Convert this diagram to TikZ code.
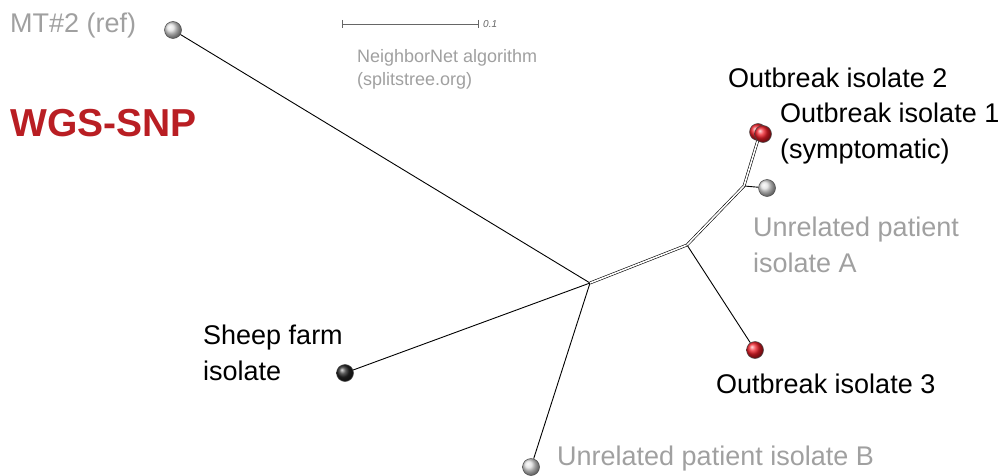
\documentclass[tikz,border=0pt]{standalone}
\usepackage{fontspec}
\setmainfont{Liberation Sans}
\definecolor{lbl}{RGB}{160,160,160}
\definecolor{wgsred}{RGB}{185,30,35}
\definecolor{leafred}{RGB}{240,30,40}
\begin{document}
\begin{tikzpicture}[x=1pt,y=-1pt,
  leaf/.style={circle,draw=black!70,line width=0.5pt,minimum size=17pt,inner sep=0pt,shading=ball},
  greyleaf/.style={leaf,ball color=black!12},
  redleaf/.style={leaf,ball color=leafred},
  blackleaf/.style={leaf,ball color=black!85},
  edge/.style={line width=0.9pt},
  split/.style={line width=0.6pt,double=white,double distance=1.6pt},
  lab/.style={anchor=base west,inner sep=0pt,font=\fontsize{27}{36}\selectfont,align=left},
  glab/.style={lab,text=lbl},
  blab/.style={lab,text=black}]
\useasboundingbox (0,0) rectangle (1003,476);
% internal nodes
\coordinate (c) at (590,283);
\coordinate (h1) at (687,245);
\coordinate (h2) at (744,186);
% leaves
\node[greyleaf] (mt) at (173,30) {};
\node[blackleaf] (sheep) at (345,373) {};
\node[greyleaf] (b) at (531,467) {};
\node[redleaf] (o3) at (755,350) {};
\node[greyleaf] (a) at (767,188) {};
% edges
\draw[edge] (c) -- (mt);
\draw[edge] (c) -- (sheep);
\draw[edge] (c) -- (b);
\draw[split] (c) -- (h1);
\draw[edge] (h1) -- (o3);
\draw[split] (h1) -- (h2);
\draw[edge] (h2) -- (a);
\coordinate (r2) at (758,132);
\coordinate (r1) at (763,134);
\coordinate (rj) at (760,133);
\draw[split] (h2) -- (rj);
\node[redleaf] (o2) at (r2) {};
\node[redleaf] (o1) at (r1) {};
% scale bar
\coordinate (s0) at (342,24);
\coordinate (s1) at (478,24);
\draw[line width=0.5pt,black!60] (s0) -- (s1);
\draw[line width=0.5pt,black!60] (342,20) -- (342,28) (478,20) -- (478,28);
\node[anchor=west,inner sep=0pt,text=black!60,font=\fontsize{10}{12}\selectfont\itshape] (sl) at (483,24) {0.1};
% labels
\node[glab] (lmt) at (10,33) {MT\#2 (ref)};
\node[lab,text=wgsred,font=\fontsize{39}{40}\selectfont\bfseries] (lwgs) at (10,136) {WGS-SNP};
\node[anchor=base west,inner sep=0pt,text=lbl,font=\fontsize{18}{23}\selectfont,align=left] (lnn) at (357,86) {NeighborNet algorithm\\(splitstree.org)};
\node[blab] (lo2) at (728,88) {Outbreak isolate 2};
\node[blab] (lo1) at (780,158) {Outbreak isolate 1\\(symptomatic)};
\node[glab] (la) at (753,272) {Unrelated patient\\isolate A};
\node[blab] (ls) at (203,380) {Sheep farm\\isolate};
\node[blab] (lo3) at (716,393) {Outbreak isolate 3};
\node[glab] (lb) at (557,465) {Unrelated patient isolate B};
\end{tikzpicture}
\end{document}
